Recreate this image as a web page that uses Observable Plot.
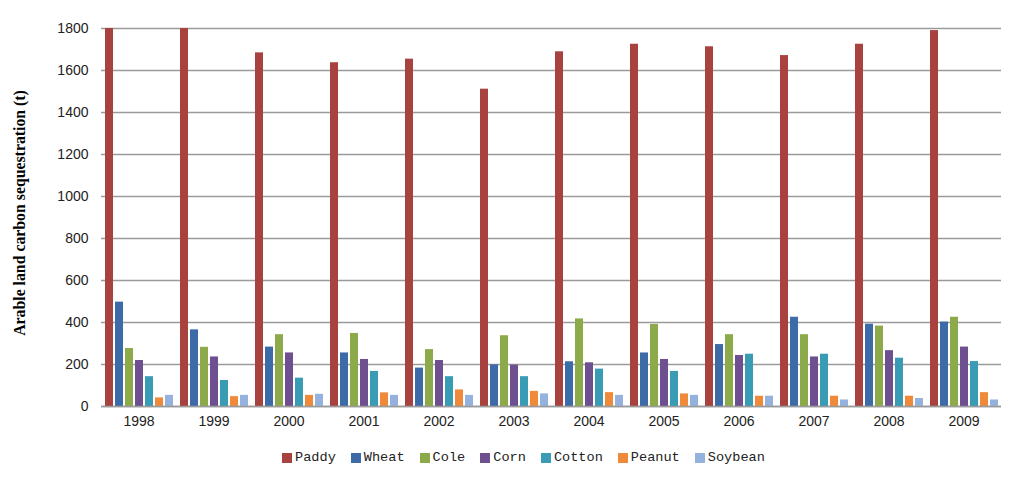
<!DOCTYPE html>
<html>
<head>
<meta charset="utf-8">
<script src="https://cdn.jsdelivr.net/npm/d3@7"></script>
<script src="https://cdn.jsdelivr.net/npm/@observablehq/plot@0.6"></script>
<style>
  html, body { margin: 0; padding: 0; background: #fff; }
  #chart { position: relative; width: 1024px; }
  #ytitle { position: absolute; left: 20px; top: 213px; transform: translate(-50%, -50%) rotate(-90deg);
    font-family: "Liberation Serif", serif; font-weight: bold; font-size: 15.8px; white-space: nowrap; color: #000; }
  #legend { display: flex; align-items: center; margin-left: 282px; margin-top: 10px;
    font-family: "Liberation Mono", monospace; font-size: 13.6px; color: #222; }
  .item { display: flex; align-items: center; margin-right: 15px; }
  .sw { width: 10px; height: 10px; margin-right: 3px; }
</style>
</head>
<body>
<div id="chart"><div id="ytitle">Arable land carbon sequestration (t)</div></div>
<div id="legend"></div>
<script>
const years = ["1998","1999","2000","2001","2002","2003","2004","2005","2006","2007","2008","2009"];
const crops = ["Paddy","Wheat","Cole","Corn","Cotton","Peanut","Soybean"];
const colors = ["#A8423F","#3D6BA8","#8DAA4A","#6E5090","#3A9BB5","#EE8A3A","#95B2DE"];
const paddy   = [1800,1800,1684,1637,1654,1511,1689,1725,1713,1671,1725,1790];
const wheat   = [497,365,283,255,183,198,213,255,295,425,392,402];
const cole    = [276,282,342,348,271,337,417,391,342,342,383,425];
const corn    = [219,236,255,224,219,197,208,224,243,236,266,283];
const cotton  = [142,124,135,167,142,142,178,167,249,249,230,214];
const peanut  = [41,47,53,65,79,72,66,60,49,49,49,66];
const soybean = [53,53,58,53,53,60,53,53,49,31,38,31];
const yTicks = [0,200,400,600,800,1000,1200,1400,1600,1800];

const series = [paddy, wheat, cole, corn, cotton, peanut, soybean];
const data = [];
years.forEach((yr, i) => crops.forEach((c, j) => data.push({year: yr, crop: c, value: series[j][i]})));

const plot = Plot.plot({
  width: 1024,
  height: 440,
  marginLeft: 99,
  marginRight: 22,
  marginTop: 28,
  marginBottom: 34,
  style: {fontFamily: "Liberation Sans, sans-serif", fontSize: "14px", color: "#222", background: "#fff"},
  fx: {domain: years, padding: 0, label: null, axis: "bottom", tickSize: 0, tickPadding: 10},
  x: {domain: crops, paddingInner: 0.2, paddingOuter: 0.2, axis: null},
  y: {domain: [0, 1800], ticks: yTicks, tickFormat: "d", label: null, tickSize: 0, tickPadding: 13},
  color: {domain: crops, range: colors},
  marks: [
    Plot.gridY(yTicks, {stroke: "#9a9a9a", strokeOpacity: 1, strokeWidth: 1.5}),
    Plot.barY(data, {fx: "year", x: "crop", y: "value", fill: "crop"}),
    Plot.ruleY([0], {stroke: "#9a9a9a", strokeWidth: 1.5})
  ]
});
document.getElementById("chart").appendChild(plot);

const legend = document.getElementById("legend");
crops.forEach((c, j) => {
  const it = document.createElement("div");
  it.className = "item";
  const sw = document.createElement("div");
  sw.className = "sw";
  sw.style.background = colors[j];
  const t = document.createElement("span");
  t.textContent = c;
  it.appendChild(sw); it.appendChild(t);
  legend.appendChild(it);
});
</script>
</body>
</html>
